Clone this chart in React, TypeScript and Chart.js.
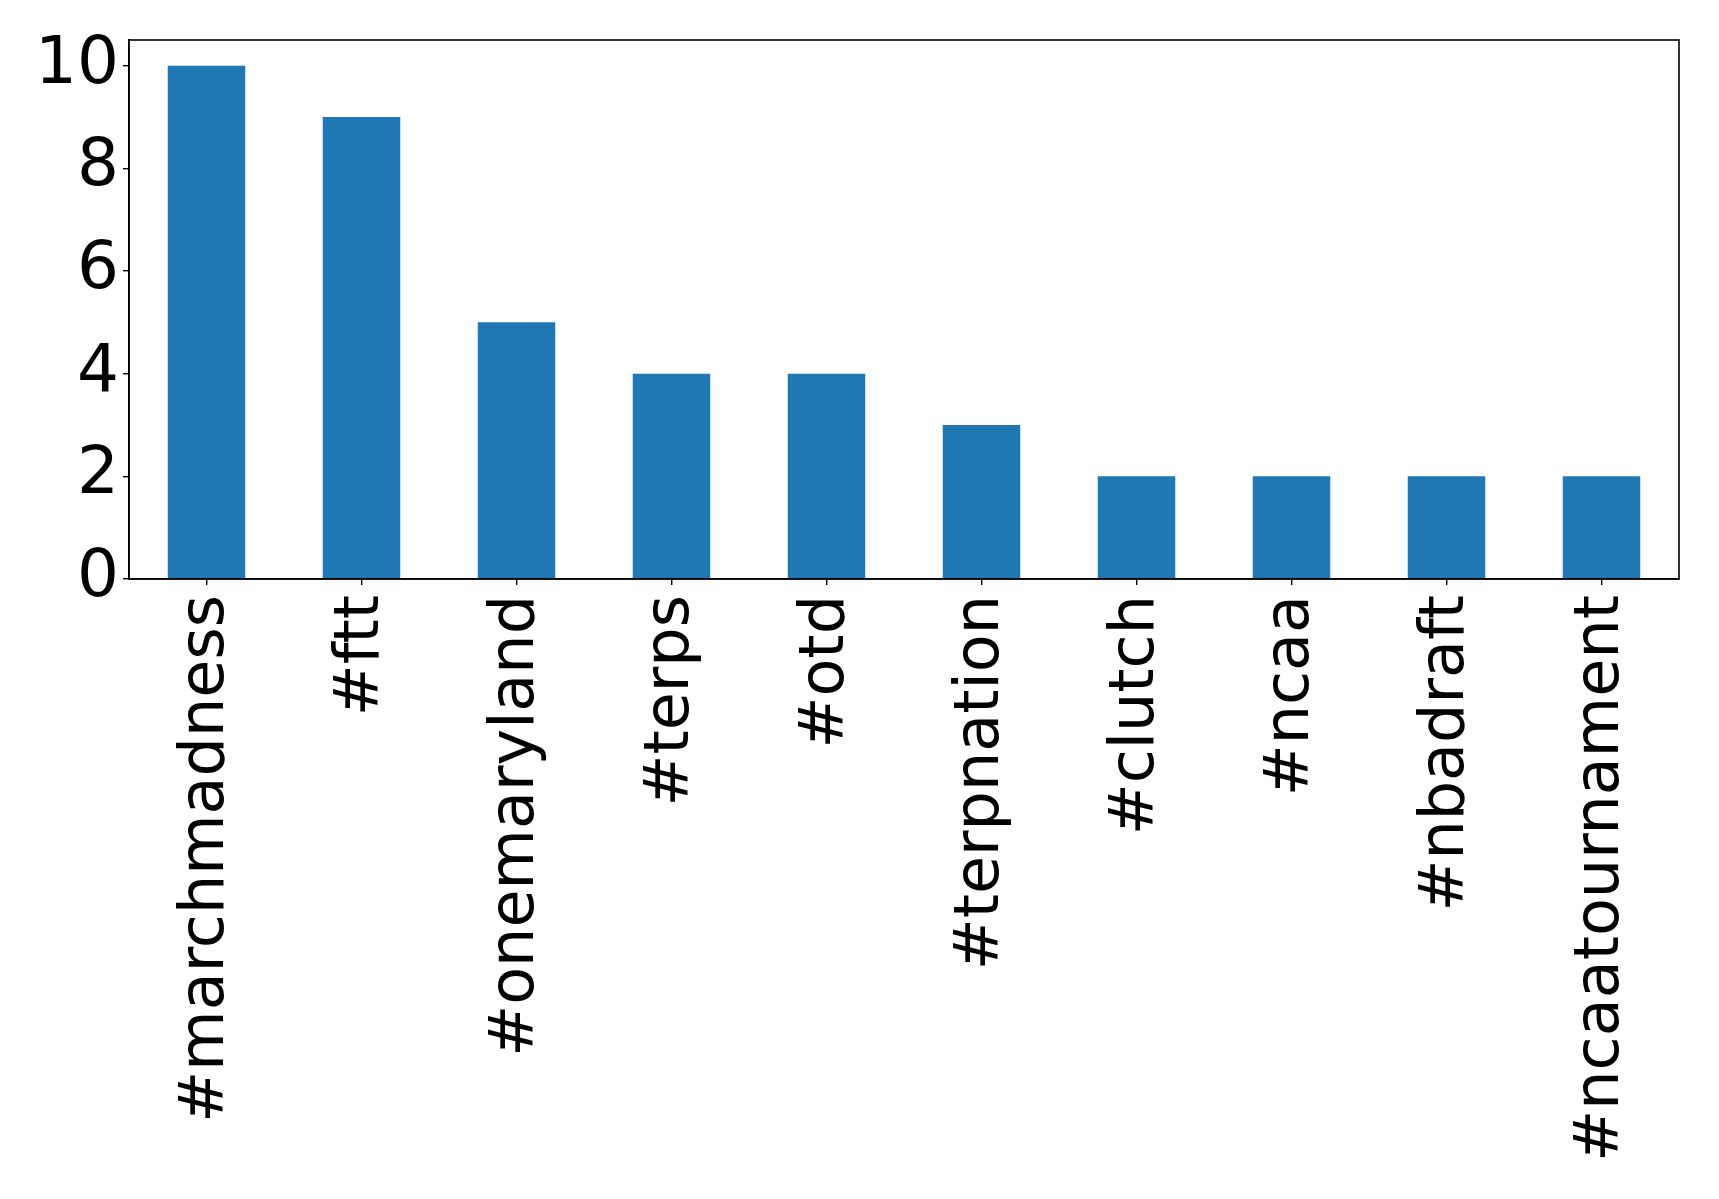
import React, { useEffect, useRef } from "react";
import { Chart, registerables } from "chart.js";

Chart.register(...registerables);

const categories = [
  "#marchmadness",
  "#ftt",
  "#onemaryland",
  "#terps",
  "#otd",
  "#terpnation",
  "#clutch",
  "#ncaa",
  "#nbadraft",
  "#ncaatournament",
];
const counts = [10, 9, 5, 4, 4, 3, 2, 2, 2, 2];
const yTicks = [0, 2, 4, 6, 8, 10];

const FONT = "'DejaVu Sans', sans-serif";

const boxPlugin = {
  id: "boxPlugin",
  afterDraw(chart: any) {
    const { ctx, chartArea } = chart;
    ctx.save();
    ctx.strokeStyle = "#000";
    ctx.lineWidth = 1.6;
    ctx.strokeRect(chartArea.left, chartArea.top, chartArea.right - chartArea.left, chartArea.bottom - chartArea.top);
    ctx.restore();
  },
};

export default function App() {
  const ref = useRef<HTMLCanvasElement | null>(null);
  useEffect(() => {
    document.body.style.margin = "0";
    const chart = new Chart(ref.current as HTMLCanvasElement, {
      type: "bar",
      data: {
        labels: categories,
        datasets: [
          {
            data: counts,
            backgroundColor: "#1f77b4",
            barPercentage: 0.5,
            categoryPercentage: 1,
          },
        ],
      },
      options: {
        animation: false,
        responsive: false,
        maintainAspectRatio: false,
        devicePixelRatio: 1,
        layout: { padding: { left: 0, top: 40, right: 40, bottom: 0 } },
        plugins: { legend: { display: false }, tooltip: { enabled: false } },
        scales: {
          x: {
            offset: true,
            grid: { offset: false, drawOnChartArea: false, drawTicks: true, tickLength: 6, color: "#000", lineWidth: 1.4 },
            border: { display: true, color: "#000", width: 1.6 },
            ticks: {
              color: "#000",
              font: { family: FONT, size: 62 },
              maxRotation: 90,
              minRotation: 90,
              autoSkip: false,
              padding: 10,
            },
            afterFit: (s: any) => {
              s.height = 620;
              s.paddingLeft = 0;
              s.paddingRight = 0;
            },
          },
          y: {
            min: 0,
            max: 10.5,
            grid: { drawOnChartArea: false, drawTicks: true, tickLength: 6, color: "#000", lineWidth: 1.4 },
            border: { display: true, color: "#000", width: 1.6 },
            ticks: {
              color: "#000",
              font: { family: FONT, size: 66 },
              stepSize: 2,
              padding: 4,
            },
            afterBuildTicks: (s: any) => {
              s.ticks = yTicks.map((v) => ({ value: v }));
            },
            afterFit: (s: any) => {
              s.width = 129;
              s.paddingTop = 0;
              s.paddingBottom = 0;
            },
          },
        },
      },
      plugins: [boxPlugin],
    });
    return () => chart.destroy();
  }, []);
  return (
    <div style={{ position: "absolute", left: 0, top: 0, width: 1719, height: 1199, background: "#fff" }}>
      <canvas ref={ref} width={1719} height={1199} style={{ width: 1719, height: 1199 }} />
    </div>
  );
}
